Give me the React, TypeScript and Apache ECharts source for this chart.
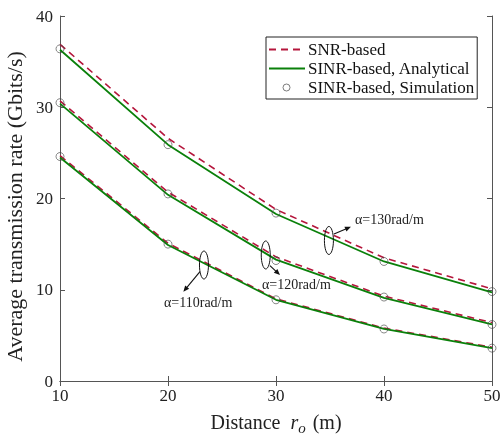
import React, { useEffect, useRef } from "react";
import * as echarts from "echarts";

const distances = [10, 20, 30, 40, 50];
const xTicks = [10, 20, 30, 40, 50];
const yTicks = [0, 10, 20, 30, 40];

const snr130 = [36.9, 26.6, 18.8, 13.5, 10.1];
const snr120 = [30.7, 20.7, 13.6, 9.3, 6.4];
const snr110 = [24.7, 15.1, 9.0, 5.8, 3.7];

const sinr130 = [36.3, 25.9, 18.3, 13.1, 9.7];
const sinr120 = [30.4, 20.4, 13.3, 9.1, 6.2];
const sinr110 = [24.5, 14.9, 8.9, 5.7, 3.6];

const sim130 = [36.4, 25.9, 18.4, 13.1, 9.8];
const sim120 = [30.5, 20.5, 13.2, 9.2, 6.2];
const sim110 = [24.6, 15.0, 8.9, 5.7, 3.6];

// annotations in data coordinates
const annotations = [
  { label: "α=130rad/m", ellipse: [34.9, 15.4], arrowFrom: [35.37, 16.11], arrowTo: [36.94, 16.91], text: [37.31, 17.75] },
  { label: "α=120rad/m", ellipse: [29.05, 13.81], arrowFrom: [29.44, 12.64], arrowTo: [30.37, 11.62], text: [28.7, 10.63] },
  { label: "α=110rad/m", ellipse: [23.33, 12.71], arrowFrom: [22.96, 11.98], arrowTo: [21.42, 9.79], text: [19.63, 8.55] },
];

const RED = "#b5163c";
const GREEN = "#0a800a";
const FONT = "Liberation Serif";

const pair = (ys: number[]) => distances.map((d, i) => [d, ys[i]]);

export default function App() {
  const ref = useRef<HTMLDivElement>(null);
  useEffect(() => {
    if (!ref.current) return;
    const chart = echarts.init(ref.current, null, { renderer: "svg" });
    const snrSeries = [snr130, snr120, snr110].map((s) => ({
      name: "SNR-based",
      type: "line",
      data: pair(s),
      showSymbol: false,
      symbol: "none",
      lineStyle: { color: RED, width: 1.6, type: [7, 5] },
      itemStyle: { color: RED },
      z: 3,
    }));
    const sinrSeries = [sinr130, sinr120, sinr110].map((s) => ({
      name: "SINR-based, Analytical",
      type: "line",
      data: pair(s),
      showSymbol: false,
      symbol: "none",
      lineStyle: { color: GREEN, width: 1.8 },
      itemStyle: { color: GREEN },
      z: 4,
    }));
    const simSeries = [sim130, sim120, sim110].map((s) => ({
      name: "SINR-based, Simulation",
      type: "scatter",
      data: pair(s),
      symbol: "circle",
      symbolSize: 8,
      itemStyle: { color: "rgba(0,0,0,0)", borderColor: "#444", borderWidth: 0.8 },
      z: 5,
    }));
    const axisLine = { show: true, lineStyle: { color: "#555", width: 1 } };
    const tickStyle = { show: true, inside: true, length: 5, lineStyle: { color: "#555", width: 1 } };
    chart.setOption({
      animation: false,
      grid: { left: 60, right: 9, top: 16, bottom: 56, containLabel: false, outerBoundsMode: "none" },
      legend: {
        orient: "vertical",
        align: "left",
        left: 266,
        top: 37,
        backgroundColor: "#fff",
        borderColor: "#222",
        borderWidth: 1,
        borderRadius: 0,
        padding: [4, 3, 3, 2],
        itemWidth: 36,
        itemHeight: 14,
        itemGap: 2,
        textStyle: { fontFamily: FONT, fontSize: 17, color: "#111", padding: [0, 0, 0, -2] },
        data: [
          { name: "SNR-based", itemStyle: { opacity: 0 } },
          { name: "SINR-based, Analytical", itemStyle: { opacity: 0 } },
          {
            name: "SINR-based, Simulation",
            icon: "path://M14,7a3.5,3.5 0 1,0 7,0a3.5,3.5 0 1,0 -7,0Z M0,0 M36,14",
            itemStyle: { color: "rgba(0,0,0,0)", borderColor: "#333", borderWidth: 0.8 },
          },
        ],
      },
      xAxis: [
        {
          type: "value",
          min: 10,
          max: 50,
          interval: 10,
          axisLine,
          axisTick: tickStyle,
          splitLine: { show: false },
          axisLabel: { fontFamily: FONT, fontSize: 17, color: "#222", margin: 6, customValues: xTicks },
          name: "Distance  {i|r}{s|o} (m)",
          nameLocation: "middle",
          nameGap: 28,
          nameTextStyle: {
            fontFamily: FONT,
            fontSize: 20,
            color: "#222",
            rich: {
              i: { fontFamily: FONT, fontStyle: "italic", fontSize: 20, color: "#222" },
              s: { fontFamily: FONT, fontStyle: "italic", fontSize: 15, color: "#222", padding: [11, 2, 0, 0], verticalAlign: "bottom" },
            },
          },
        },
        {
          type: "value",
          position: "top",
          min: 10,
          max: 50,
          interval: 10,
          axisLine,
          axisTick: tickStyle,
          axisLabel: { show: false },
          splitLine: { show: false },
        },
      ],
      yAxis: [
        {
          type: "value",
          min: 0,
          max: 40,
          interval: 10,
          axisLine,
          axisTick: tickStyle,
          splitLine: { show: false },
          axisLabel: { fontFamily: FONT, fontSize: 17, color: "#222", margin: 7, customValues: yTicks },
          name: "Average transmission rate (Gbits/s)",
          nameLocation: "middle",
          nameGap: 27,
          nameTextStyle: { fontFamily: FONT, fontSize: 22, color: "#222", padding: [0, 16, 0, 0] },
        },
        {
          type: "value",
          position: "right",
          min: 0,
          max: 40,
          interval: 10,
          axisLine,
          axisTick: tickStyle,
          axisLabel: { show: false },
          splitLine: { show: false },
        },
      ],
      series: [...snrSeries, ...sinrSeries, ...simSeries],
    });

    const graphics: any[] = [];
    annotations.forEach((a) => {
      const e = chart.convertToPixel({ gridIndex: 0 }, a.ellipse) as number[];
      const f = chart.convertToPixel({ gridIndex: 0 }, a.arrowFrom) as number[];
      const t = chart.convertToPixel({ gridIndex: 0 }, a.arrowTo) as number[];
      const p = chart.convertToPixel({ gridIndex: 0 }, a.text) as number[];
      graphics.push({
        type: "ellipse",
        shape: { cx: e[0], cy: e[1], rx: 4.5, ry: 14 },
        style: { fill: "none", stroke: "#111", lineWidth: 1 },
        z: 10,
      });
      const dx = t[0] - f[0];
      const dy = t[1] - f[1];
      const len = Math.sqrt(dx * dx + dy * dy);
      const ux = dx / len;
      const uy = dy / len;
      const hl = 6;
      const hw = 2.6;
      const bx = t[0] - ux * hl;
      const by = t[1] - uy * hl;
      graphics.push({
        type: "line",
        shape: { x1: f[0], y1: f[1], x2: bx + ux, y2: by + uy },
        style: { stroke: "#111", lineWidth: 1.1 },
        z: 10,
      });
      graphics.push({
        type: "polygon",
        shape: { points: [[t[0], t[1]], [bx - uy * hw, by + ux * hw], [bx + uy * hw, by - ux * hw]] },
        style: { fill: "#111", stroke: "none" },
        z: 10,
      });
      graphics.push({
        type: "text",
        x: p[0],
        y: p[1],
        style: { text: a.label, fontFamily: FONT, fontSize: 14, fill: "#222", verticalAlign: "middle" },
        z: 10,
      });
    });
    chart.setOption({ graphic: graphics });

    return () => chart.dispose();
  }, []);
  return <div ref={ref} style={{ position: "fixed", left: 0, top: 0, width: 501, height: 437 }} />;
}
